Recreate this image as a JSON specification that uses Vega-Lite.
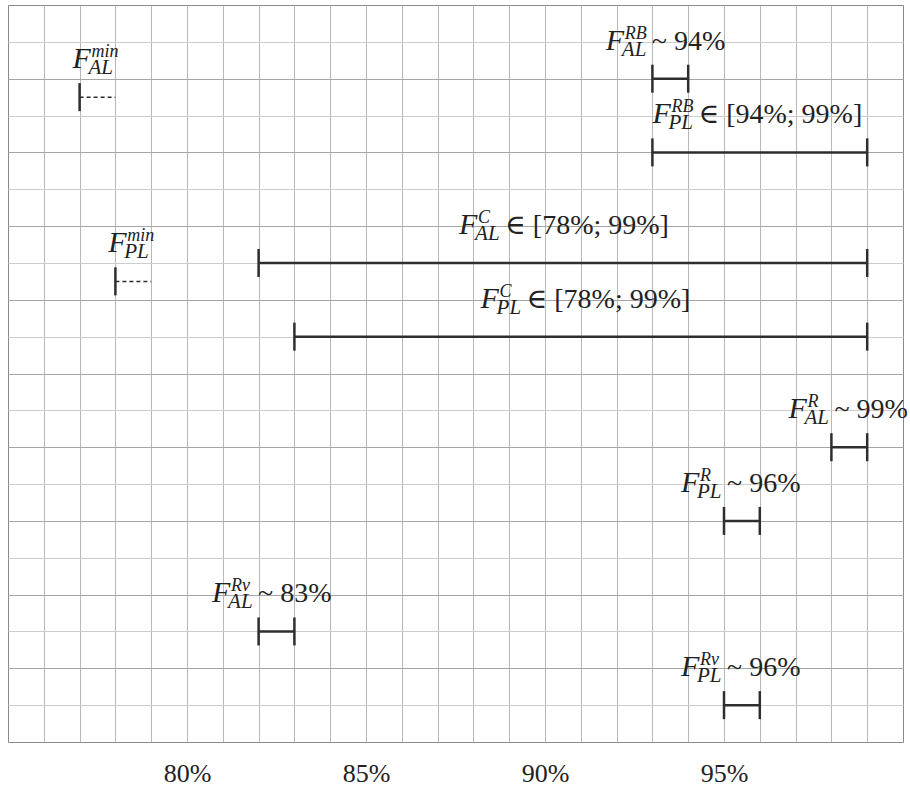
{
  "$schema": "https://vega.github.io/schema/vega-lite/v6.json",
  "width": 895,
  "height": 737,
  "autosize": {"type": "none"},
  "padding": {"left": 8, "top": 5, "right": 7, "bottom": 45},
  "background": "white",
  "config": {
    "view": {"stroke": "#8a8a8a", "strokeWidth": 1},
    "text": {"font": "Liberation Serif", "color": "#222"}
  },
  "resolve": {"axis": {"x": "independent"}},
  "data": {
    "values": [
      {"id": "AL_min", "x1": 77, "x2": 78, "y": 17.5, "dashed": true, "sub": "AL", "sup": "min", "rest": "", "lx": 76.8},
      {"id": "AL_RB", "x1": 93, "x2": 94, "y": 18, "dashed": false, "sub": "AL", "sup": "RB", "rest": "~ 94%", "lx": 91.7},
      {"id": "PL_RB", "x1": 93, "x2": 99, "y": 16, "dashed": false, "sub": "PL", "sup": "RB", "rest": "∈ [94%; 99%]", "lx": 93.0},
      {"id": "AL_C", "x1": 82, "x2": 99, "y": 13, "dashed": false, "sub": "AL", "sup": "C", "rest": "∈ [78%; 99%]", "lx": 87.6},
      {"id": "PL_min", "x1": 78, "x2": 79, "y": 12.5, "dashed": true, "sub": "PL", "sup": "min", "rest": "", "lx": 77.8},
      {"id": "PL_C", "x1": 83, "x2": 99, "y": 11, "dashed": false, "sub": "PL", "sup": "C", "rest": "∈ [78%; 99%]", "lx": 88.2},
      {"id": "AL_R", "x1": 98, "x2": 99, "y": 8, "dashed": false, "sub": "AL", "sup": "R", "rest": "~ 99%", "lx": 96.8},
      {"id": "PL_R", "x1": 95, "x2": 96, "y": 6, "dashed": false, "sub": "PL", "sup": "R", "rest": "~ 96%", "lx": 93.8},
      {"id": "AL_Rv", "x1": 82, "x2": 83, "y": 3, "dashed": false, "sub": "AL", "sup": "Rv", "rest": "~ 83%", "lx": 80.7},
      {"id": "PL_Rv", "x1": 95, "x2": 96, "y": 1, "dashed": false, "sub": "PL", "sup": "Rv", "rest": "~ 96%", "lx": 93.8}
    ]
  },
  "layer": [
    {
      "transform": [{"filter": "!datum.dashed"}],
      "mark": {"type": "rule", "color": "#2e2e2e", "strokeWidth": 2.5},
      "encoding": {
        "x": {
          "field": "x1", "type": "quantitative",
          "scale": {"domain": [75, 100], "nice": false, "zero": false},
          "axis": {
            "title": null,
            "orient": "bottom",
            "values": [76,77,78,79,80,81,82,83,84,85,86,87,88,89,90,91,92,93,94,95,96,97,98,99],
            "labels": false,
            "ticks": false,
            "domain": false,
            "grid": true,
            "gridColor": "#b8b8b8",
            "gridWidth": 1
          }
        },
        "x2": {"field": "x2"},
        "y": {
          "field": "y", "type": "quantitative",
          "scale": {"domain": [0, 20], "nice": false, "zero": false},
          "axis": {
            "title": null,
            "values": [1,2,3,4,5,6,7,8,9,10,11,12,13,14,15,16,17,18,19],
            "labels": false,
            "ticks": false,
            "domain": false,
            "grid": true,
            "gridColor": {"condition": {"test": "datum.value % 2 === 0", "value": "#a6a6a6"}, "value": "#cdcdcd"},
            "gridWidth": 1
          }
        }
      }
    },
    {
      "transform": [{"filter": "datum.dashed"}],
      "mark": {"type": "rule", "color": "#2e2e2e", "strokeWidth": 1.5, "strokeDash": [4, 3]},
      "encoding": {
        "x": {
          "field": "x1", "type": "quantitative",
          "axis": {
            "title": null,
            "orient": "bottom",
            "values": [80, 85, 90, 95],
            "labelExpr": "datum.value + '%'",
            "labelFont": "Liberation Serif",
            "labelFontSize": 26,
            "labelColor": "#222",
            "labelPadding": 18,
            "labelDx": -10,
            "labelBaseline": "top",
            "labelFlush": false,
            "labelOverlap": false,
            "ticks": false,
            "domain": false,
            "grid": false
          }
        },
        "x2": {"field": "x2"},
        "y": {"field": "y", "type": "quantitative", "title": null}
      }
    },
    {
      "mark": {"type": "tick", "orient": "vertical", "color": "#2e2e2e", "thickness": 2.5, "size": 28, "opacity": 1},
      "encoding": {
        "x": {"field": "x1", "type": "quantitative", "axis": null},
        "y": {"field": "y", "type": "quantitative", "title": null}
      }
    },
    {
      "transform": [{"filter": "!datum.dashed"}],
      "mark": {"type": "tick", "orient": "vertical", "color": "#2e2e2e", "thickness": 2.5, "size": 28, "opacity": 1},
      "encoding": {
        "x": {"field": "x2", "type": "quantitative", "axis": null},
        "y": {"field": "y", "type": "quantitative", "title": null}
      }
    },
    {
      "mark": {"type": "text", "text": "F", "font": "Liberation Serif", "fontStyle": "italic", "fontSize": 30, "align": "left", "baseline": "alphabetic", "dy": -29, "color": "#222"},
      "encoding": {
        "x": {"field": "lx", "type": "quantitative", "axis": null},
        "y": {"field": "y", "type": "quantitative", "title": null}
      }
    },
    {
      "mark": {"type": "text", "font": "Liberation Serif", "fontStyle": "italic", "fontSize": 21, "align": "left", "baseline": "alphabetic", "dx": 16, "dy": -23, "color": "#222"},
      "encoding": {
        "x": {"field": "lx", "type": "quantitative", "axis": null},
        "y": {"field": "y", "type": "quantitative", "title": null},
        "text": {"field": "sub"}
      }
    },
    {
      "mark": {"type": "text", "font": "Liberation Serif", "fontStyle": "italic", "fontSize": 18, "align": "left", "baseline": "alphabetic", "dx": 19, "dy": -40, "color": "#222"},
      "encoding": {
        "x": {"field": "lx", "type": "quantitative", "axis": null},
        "y": {"field": "y", "type": "quantitative", "title": null},
        "text": {"field": "sup"}
      }
    },
    {
      "transform": [{"filter": "datum.rest !== ''"}],
      "mark": {"type": "text", "font": "Liberation Serif, DejaVu Serif", "fontSize": 28, "align": "left", "baseline": "alphabetic", "dx": 46, "dy": -29, "color": "#222"},
      "encoding": {
        "x": {"field": "lx", "type": "quantitative", "axis": null},
        "y": {"field": "y", "type": "quantitative", "title": null},
        "text": {"field": "rest"}
      }
    }
  ]
}
